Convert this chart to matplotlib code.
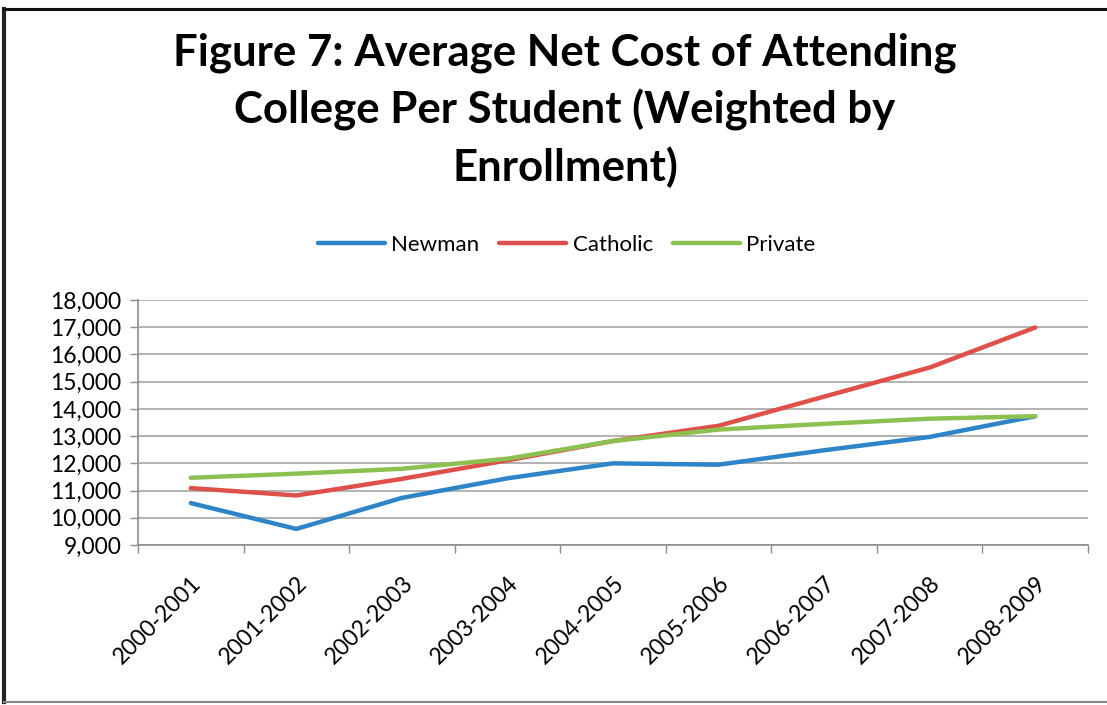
import matplotlib
matplotlib.use("Agg")
import matplotlib.pyplot as plt
from matplotlib.lines import Line2D

categories = ["2000-2001", "2001-2002", "2002-2003", "2003-2004", "2004-2005",
              "2005-2006", "2006-2007", "2007-2008", "2008-2009"]
newman = [10540, 9590, 10730, 11450, 12000, 11950, 12480, 12970, 13730]
catholic = [11090, 10820, 11430, 12110, 12820, 13380, 14450, 15520, 16990]
private = [11470, 11620, 11800, 12170, 12820, 13240, 13450, 13640, 13730]
series_names = ["Newman", "Catholic", "Private"]
colors = ["#2e84c8", "#e0504b", "#8cc152"]
yticks = list(range(9000, 18001, 1000))

plt.rcParams['font.family'] = ['Lato', 'DejaVu Sans']

fig = plt.figure(figsize=(11.07, 7.05), dpi=100)
ax = fig.add_axes([138/1107, 1-545/705, (1088-138)/1107, (545-300)/705])

x = list(range(len(categories)))
for vals, name, c in zip([newman, catholic, private], series_names, colors):
    ax.plot(x, vals, color=c, lw=3.2, label=name, solid_capstyle='round',
            solid_joinstyle='round')

ax.set_xlim(-0.5, len(categories) - 0.5)
ax.set_ylim(9000, 18000)
ax.set_yticks(yticks)
ax.set_yticklabels([f"{v:,}" for v in yticks], fontsize=16.5, color='black')
ax.set_xticks([i - 0.5 for i in range(len(categories) + 1)], minor=False)
ax.set_xticklabels([])
ax.set_xticks(x, minor=True)
ax.set_xticklabels(categories, minor=True, rotation=45, ha='right', va='top',
                   rotation_mode='anchor', fontsize=16.5)
ax.tick_params(axis='x', which='minor', length=0, pad=20)
ax.tick_params(axis='x', which='major', length=6, color='#8c8c8c', width=1)
ax.tick_params(axis='y', length=6, color='#8c8c8c', width=1, pad=6)
ax.grid(axis='y', color='#a6a6a6', lw=1.2)
ax.set_axisbelow(True)
for s in ['top', 'right']:
    ax.spines[s].set_visible(False)
for s in ['left', 'bottom']:
    ax.spines[s].set_color('#8c8c8c')
    ax.spines[s].set_linewidth(1.2)

fig.text(565/1107, 1-110/705, "Figure 7: Average Net Cost of Attending\nCollege Per Student (Weighted by\nEnrollment)",
         ha='center', va='center', fontsize=31.5, fontweight='bold', linespacing=1.45)

fig.legend(loc='center', bbox_to_anchor=(0.512, 1-245/705), ncol=3, frameon=False,
           fontsize=16, handlelength=3.0, columnspacing=0.9, handletextpad=0.3)

# figure border
fig.add_artist(Line2D([4/1107, 4/1107], [1-9/705, 1-702/705], color='#222222', lw=3, transform=fig.transFigure))
fig.add_artist(Line2D([4/1107, 1], [1-9/705, 1-9/705], color='#111111', lw=2.2, transform=fig.transFigure))
fig.add_artist(Line2D([4/1107, 1], [1-702/705, 1-702/705], color='#888888', lw=1.5, transform=fig.transFigure))

fig.savefig("out.png", dpi=100)
